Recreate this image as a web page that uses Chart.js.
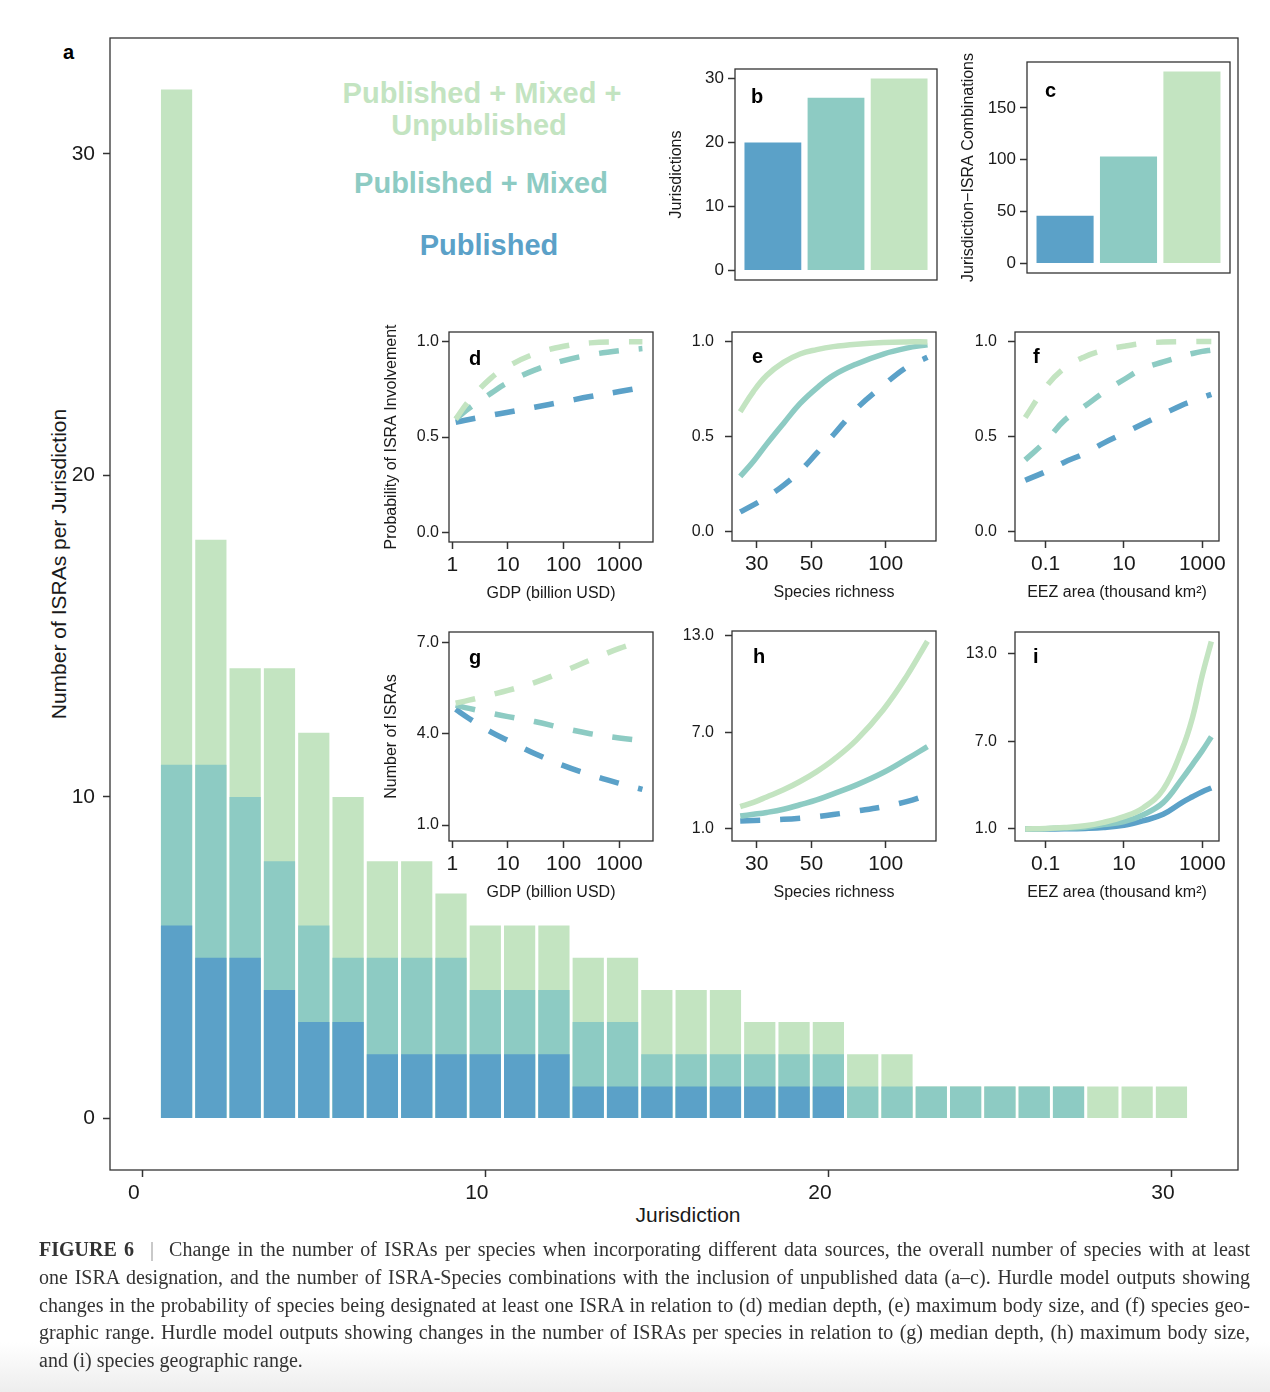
<!doctype html>
<html lang="en">
  <head>
    <meta charset="UTF-8" />
    <title>ISRAs per jurisdiction - Figure 6</title>
    <script src="https://cdn.jsdelivr.net/npm/chart.js"></script>
    <style>
      body {
        margin: 0;
        background: #fff;
        font-family: "Liberation Sans", Arial, sans-serif;
      }
      #fig {
        position: relative;
        width: 1270px;
        height: 1392px;
        overflow: hidden;
        background: #fff;
      }
      canvas {
        position: absolute;
      }
      .lab {
        position: absolute;
        white-space: nowrap;
        line-height: 1;
        font-weight: bold;
      }
      .big {
        font-size: 29px;
        transform: translateX(-50%);
      }
      .tag {
        font-size: 20px;
        color: #000;
      }
      .axt {
        position: absolute;
        white-space: nowrap;
        line-height: 1;
        font-size: 21px;
        color: #1a1a1a;
      }
      #caption {
        position: absolute;
        left: 39px;
        top: 1236px;
        font-family: "Liberation Serif", "DejaVu Serif", serif;
        font-size: 20px;
        line-height: 27.8px;
        color: #333;
      }
      #caption div {
        white-space: nowrap;
      }
      #caption .bar {
        color: #999;
        margin: 0 15px 0 16px;
      }
      #shade {
        position: absolute;
        left: 0;
        right: 0;
        bottom: 0;
        height: 50px;
        background: linear-gradient(rgba(255, 255, 255, 0), rgba(228, 228, 228, 0.65));
      }
    </style>
  </head>
  <body>
    <div id="fig">
      <div id="shade"></div>
      <div class="lab tag" style="left: 63px; top: 42px">a</div>

      <div class="lab big" style="left: 482px; top: 79px; color: #c3e4c1">Published + Mixed +</div>
      <div class="lab big" style="left: 479px; top: 111px; color: #c3e4c1">Unpublished</div>
      <div class="lab big" style="left: 481px; top: 169px; color: #8dcbc3">Published + Mixed</div>
      <div class="lab big" style="left: 489px; top: 231px; color: #5ba1c8">Published</div>

      <div class="axt" style="left: 688px; top: 1204px; transform: translateX(-50%)">Jurisdiction</div>
      <div class="axt" style="left: 58px; top: 564px; transform: translate(-50%, -50%) rotate(-90deg)">Number of ISRAs per Jurisdiction</div>

      <div id="caption">
        <div class="j"><span><b>FIGURE 6</b><span class="bar">|</span>Change in the number of ISRAs per species when incorporating different data sources, the overall number of species with at least</span></div>
        <div class="j"><span>one ISRA designation, and the number of ISRA-Species combinations with the inclusion of unpublished data (a–c). Hurdle model outputs showing</span></div>
        <div class="j"><span>changes in the probability of species being designated at least one ISRA in relation to (d) median depth, (e) maximum body size, and (f) species geo-</span></div>
        <div class="j"><span>graphic range. Hurdle model outputs showing changes in the number of ISRAs per species in relation to (g) median depth, (h) maximum body size,</span></div>
        <div><span>and (i) species geographic range.</span></div>
      </div>
    </div>

    <script>
      // ---- panel a: ISRAs per jurisdiction ----
      const jurisdictions = [1, 2, 3, 4, 5, 6, 7, 8, 9, 10, 11, 12, 13, 14, 15, 16, 17, 18, 19, 20, 21, 22, 23, 24, 25, 26, 27, 28, 29, 30];
      const published = [6, 5, 5, 4, 3, 3, 2, 2, 2, 2, 2, 2, 1, 1, 1, 1, 1, 1, 1, 1, 0, 0, 0, 0, 0, 0, 0, 0, 0, 0];
      const publishedMixed = [11, 11, 10, 8, 6, 5, 5, 5, 5, 4, 4, 4, 3, 3, 2, 2, 2, 2, 2, 2, 1, 1, 1, 1, 1, 1, 1, 0, 0, 0];
      const allSources = [32, 18, 14, 14, 12, 10, 8, 8, 7, 6, 6, 6, 5, 5, 4, 4, 4, 3, 3, 3, 2, 2, 1, 1, 1, 1, 1, 1, 1, 1];
      const mainXTicks = [0, 10, 20, 30];
      const mainYTicks = [0, 10, 20, 30];

      // ---- panels b, c ----
      const sourceNames = ["Published", "Published + Mixed", "Published + Mixed + Unpublished"];
      const sourcePos = [1, 2, 3];
      const jurisdictionCounts = [20, 27, 30];
      const combinationCounts = [46, 103, 185];
      const bTicks = [0, 10, 20, 30];
      const cTicks = [0, 50, 100, 150];

      // ---- panels d, g: GDP (billion USD) ----
      const gdp = [1.15, 2, 5, 10, 30, 100, 300, 1000, 2600];
      const probGdpAll = [0.594, 0.69, 0.81, 0.87, 0.935, 0.975, 0.993, 0.998, 0.999];
      const probGdpMixed = [0.594, 0.65, 0.73, 0.785, 0.85, 0.9, 0.93, 0.952, 0.963];
      const probGdpPub = [0.577, 0.592, 0.614, 0.63, 0.656, 0.685, 0.712, 0.738, 0.76];
      const numGdpAll = [5.0, 5.1, 5.28, 5.42, 5.68, 6.05, 6.42, 6.8, 7.05];
      const numGdpMixed = [4.94, 4.83, 4.67, 4.56, 4.4, 4.18, 4.0, 3.86, 3.77];
      const numGdpPub = [4.8, 4.5, 4.05, 3.78, 3.35, 2.95, 2.65, 2.37, 2.17];
      const gdpTicks = [1, 10, 100, 1000];

      // ---- panels e, h: species richness ----
      const richness = [25.7, 29.1, 32.9, 38.5, 44.9, 52.5, 61.3, 76.2, 97.8, 121.5, 147.7];
      const probRichAll = [0.63, 0.738, 0.821, 0.89, 0.934, 0.957, 0.973, 0.986, 0.995, 0.998, 0.998];
      const probRichMixed = [0.29, 0.37, 0.46, 0.569, 0.673, 0.755, 0.822, 0.882, 0.934, 0.965, 0.983];
      const probRichPub = [0.103, 0.14, 0.18, 0.243, 0.317, 0.412, 0.508, 0.647, 0.769, 0.864, 0.917];
      const numRichAll = [2.35, 2.62, 2.96, 3.4, 3.92, 4.54, 5.27, 6.52, 8.4, 10.48, 12.67];
      const numRichMixed = [1.77, 1.875, 1.99, 2.19, 2.47, 2.77, 3.15, 3.71, 4.48, 5.31, 6.1];
      const numRichPub = [1.46, 1.49, 1.52, 1.56, 1.63, 1.73, 1.86, 2.08, 2.35, 2.67, 3.08];
      const richTicks = [30, 50, 100];

      // ---- panels f, i: EEZ area (thousand km2) ----
      const eez = [0.03, 0.1, 0.3, 1, 3, 10, 30, 100, 300, 560, 1000, 1700];
      const probEezAll = [0.6, 0.76, 0.86, 0.92, 0.953, 0.975, 0.99, 0.997, 0.999, 0.9995, 1.0, 1.0];
      const probEezMixed = [0.377, 0.475, 0.585, 0.66, 0.732, 0.8, 0.857, 0.893, 0.922, 0.937, 0.948, 0.955];
      const probEezPub = [0.27, 0.315, 0.365, 0.411, 0.465, 0.517, 0.566, 0.618, 0.665, 0.686, 0.705, 0.722];
      const numEezAll = [1.0, 1.03, 1.1, 1.22, 1.45, 1.84, 2.42, 3.7, 6.4, 8.6, 11.5, 13.8];
      const numEezMixed = [1.0, 1.02, 1.06, 1.12, 1.3, 1.5, 1.96, 2.8, 4.4, 5.4, 6.35, 7.3];
      const numEezPub = [1.0, 1.0, 1.01, 1.04, 1.1, 1.25, 1.55, 2.0, 2.8, 3.2, 3.55, 3.8];
      const eezTicks = [0.1, 10, 1000];

      const probTicks = [0, 0.5, 1];
      const gTicks = [1, 4, 7];
      const hiTicks = [1, 7, 13];

      const FONT = '"Liberation Sans", Arial, sans-serif';
      const BLUE = "#5ba1c8";
      const TEAL = "#8dcbc3";
      const GREEN = "#c3e4c1";
      const INK = "#1a1a1a";
      const FRAME = "#333333";
      const fig = document.getElementById("fig");
      const captionEl = document.getElementById("caption");

      // plot boxes (page px)
      const boxes = {
        a: { l: 110, t: 38, r: 1238, b: 1170 },
        b: { l: 735, t: 69, r: 937, b: 280 },
        c: { l: 1027, t: 62, r: 1230, b: 273 },
        d: { l: 449, t: 332, r: 653, b: 542 },
        e: { l: 732, t: 332, r: 936, b: 541 },
        f: { l: 1015, t: 332, r: 1219, b: 541 },
        g: { l: 449, t: 632, r: 653, b: 841 },
        h: { l: 732, t: 631, r: 936, b: 841 },
        i: { l: 1015, t: 632, r: 1219, b: 841 },
      };

      const framePlugin = {
        id: "frame",
        afterDraw(chart) {
          const { ctx, chartArea: a } = chart;
          ctx.save();
          ctx.strokeStyle = FRAME;
          ctx.lineWidth = 1.3;
          ctx.strokeRect(a.left, a.top, a.right - a.left, a.bottom - a.top);
          ctx.restore();
        },
      };

      function makeCanvas(box, yw, xh, padTop, padRight) {
        const c = document.createElement("canvas");
        c.width = box.r - box.l + yw + padRight;
        c.height = box.b - box.t + padTop + xh;
        c.style.left = box.l - yw + "px";
        c.style.top = box.t - padTop + "px";
        fig.insertBefore(c, captionEl);
        return c;
      }

      function tickGrid() {
        return {
          display: true,
          drawOnChartArea: false,
          drawTicks: true,
          tickLength: 7,
          tickWidth: 1.5,
          tickColor: FRAME,
          color: FRAME,
          offset: false,
        };
      }

      function yScale(o) {
        return {
          type: "linear",
          position: "left",
          min: o.min,
          max: o.max,
          bounds: "data",
          afterBuildTicks: (s) => {
            s.ticks = o.ticks.map((v) => ({ value: v }));
          },
          afterFit: (s) => {
            s.width = o.width;
            s.paddingTop = 0;
            s.paddingBottom = 0;
          },
          ticks: { color: INK, padding: o.pad, font: { family: FONT, size: o.size }, callback: o.fmt },
          grid: tickGrid(),
          border: { display: false },
          title: o.title
            ? { display: true, text: o.title, color: INK, font: { family: FONT, size: o.titleSize }, padding: { top: o.titlePad, bottom: 0 } }
            : { display: false },
        };
      }

      function xScale(o) {
        return {
          type: o.type,
          position: "bottom",
          min: o.min,
          max: o.max,
          bounds: "data",
          offset: false,
          afterBuildTicks: (s) => {
            s.ticks = o.ticks.map((v) => ({ value: v }));
          },
          afterFit: (s) => {
            s.height = o.height;
            s.paddingLeft = 0;
            s.paddingRight = 0;
          },
          ticks: {
            color: INK,
            padding: o.pad,
            labelOffset: o.labelOffset || 0,
            maxRotation: 0,
            autoSkip: false,
            font: { family: FONT, size: o.size },
            callback: (v) => String(v),
          },
          grid: tickGrid(),
          border: { display: false },
          title: o.title
            ? { display: true, text: o.title, color: INK, font: { family: FONT, size: o.titleSize }, padding: { top: 0, bottom: o.titlePad } }
            : { display: false },
        };
      }

      function baseOptions(padTop, padRight, padBottom) {
        return {
          responsive: false,
          animation: false,
          events: [],
          layout: { padding: { top: padTop, right: padRight, left: 0, bottom: padBottom || 0 } },
          plugins: { legend: { display: false }, tooltip: { enabled: false } },
        };
      }

      const pts = (xs, ys) => xs.map((x, i) => ({ x: x, y: ys[i] }));
      const fmt1 = (v) => Number(v).toFixed(1);
      const fmt0 = (v) => String(v);

      // ---- a: main bar chart ----
      {
        const cv = makeCanvas(boxes.a, 80, 70, 18, 10);
        const opts = baseOptions(18, 10);
        opts.datasets = { bar: { grouped: false, categoryPercentage: 1, barPercentage: 0.91, borderWidth: 0 } };
        opts.scales = {
          x: xScale({ type: "linear", min: -0.94, max: 31.94, ticks: mainXTicks, height: 70, pad: 4, labelOffset: -8.5, size: 21 }),
          y: yScale({ min: -1.6, max: 33.6, ticks: mainYTicks, width: 80, pad: 8, size: 21, fmt: fmt0 }),
        };
        new Chart(cv, {
          type: "bar",
          data: {
            datasets: [
              { label: sourceNames[0], data: pts(jurisdictions, published), backgroundColor: BLUE },
              { label: sourceNames[1], data: pts(jurisdictions, publishedMixed), backgroundColor: TEAL },
              { label: sourceNames[2], data: pts(jurisdictions, allSources), backgroundColor: GREEN },
            ],
          },
          options: opts,
          plugins: [framePlugin],
        });
      }

      // ---- b, c: summary bars ----
      function summaryChart(box, values, ticks, min, max, title) {
        const cv = makeCanvas(box, 70, 24, 24, 10);
        const opts = baseOptions(24, 10, 24);
        opts.datasets = { bar: { categoryPercentage: 1, barPercentage: 0.9, borderWidth: 0 } };
        opts.scales = {
          x: { type: "linear", display: false, min: 0.4, max: 3.6, offset: false, afterBuildTicks: (s) => { s.ticks = []; } },
          y: yScale({ min: min, max: max, ticks: ticks, width: 70, pad: 4, size: 17, fmt: fmt0, title: title, titleSize: 16, titlePad: 2 }),
        };
        new Chart(cv, {
          type: "bar",
          data: {
            datasets: [{ label: title, data: pts(sourcePos, values), backgroundColor: [BLUE, TEAL, GREEN] }],
          },
          options: opts,
          plugins: [framePlugin],
        });
      }
      summaryChart(boxes.b, jurisdictionCounts, bTicks, -1.5, 31.5, "Jurisdictions");
      summaryChart(boxes.c, combinationCounts, cTicks, -9.25, 194.25, "Jurisdiction\u2212ISRA Combinations");

      // ---- d-i: hurdle model curves ----
      function line(label, xs, ys, color, dashed) {
        return {
          label: label,
          data: pts(xs, ys),
          borderColor: color,
          borderWidth: 5.5,
          borderDash: dashed ? [20, 20] : [],
          borderCapStyle: "butt",
          pointRadius: 0,
          fill: false,
          tension: 0.4,
        };
      }

      function curveChart(box, xs, series, dashes, xo, yo) {
        const cv = makeCanvas(box, 70, 65, 10, 32);
        const opts = baseOptions(10, 32);
        opts.scales = {
          x: xScale(Object.assign({ type: "logarithmic", height: 65, pad: 4, size: 21, titleSize: 16, titlePad: 3.5 }, xo)),
          y: yScale(Object.assign({ width: 70, pad: 11, size: 16, fmt: fmt1, titleSize: 16, titlePad: 3 }, yo)),
        };
        const colors = [GREEN, TEAL, BLUE];
        new Chart(cv, {
          type: "line",
          data: {
            datasets: series.map((ys, k) => line(sourceNames[2 - k], xs, ys, colors[k], dashes[k])),
          },
          options: opts,
          plugins: [framePlugin],
        });
      }

      const gdpAxis = { min: 0.873, max: 4030, ticks: gdpTicks, title: "GDP (billion USD)" };
      const richAxis = { min: 23.8, max: 160, ticks: richTicks, title: "Species richness" };
      const eezAxis = { min: 0.01644, max: 2670, ticks: eezTicks, title: "EEZ area (thousand km\u00B2)" };
      const probAxis = { min: -0.05, max: 1.05, ticks: probTicks };

      curveChart(boxes.d, gdp, [probGdpAll, probGdpMixed, probGdpPub], [true, true, true], gdpAxis,
        Object.assign({ title: "Probability of ISRA Involvement", pad: 3 }, probAxis));
      curveChart(boxes.e, richness, [probRichAll, probRichMixed, probRichPub], [false, false, true], richAxis, probAxis);
      curveChart(boxes.f, eez, [probEezAll, probEezMixed, probEezPub], [true, true, true], eezAxis, probAxis);
      curveChart(boxes.g, gdp, [numGdpAll, numGdpMixed, numGdpPub], [true, true, true], gdpAxis,
        { min: 0.475, max: 7.34, ticks: gTicks, title: "Number of ISRAs", pad: 3 });
      curveChart(boxes.h, richness, [numRichAll, numRichMixed, numRichPub], [false, false, true], richAxis,
        { min: 0.21, max: 13.31, ticks: hiTicks });
      curveChart(boxes.i, eez, [numEezAll, numEezMixed, numEezPub], [false, false, false], eezAxis,
        { min: 0.18, max: 14.45, ticks: hiTicks });

      // panel letters on top of the canvases
      const letters = [
        ["b", 751, 103], ["c", 1045, 97], ["d", 469, 365], ["e", 752, 363],
        ["f", 1033, 363], ["g", 469, 664], ["h", 753, 663], ["i", 1033, 663],
      ];
      letters.forEach(([t, x, base]) => {
        const el = document.createElement("div");
        el.className = "lab tag";
        el.textContent = t;
        el.style.left = x + "px";
        el.style.top = base - 17 + "px";
        fig.insertBefore(el, captionEl);
      });

      // justify caption lines to the column width
      document.querySelectorAll("#caption .j").forEach((row) => {
        const span = row.firstElementChild;
        const gaps = span.textContent.split(" ").length - 1;
        const extra = (1211 - span.getBoundingClientRect().width) / gaps;
        span.style.wordSpacing = extra + "px";
      });
    </script>
  </body>
</html>
